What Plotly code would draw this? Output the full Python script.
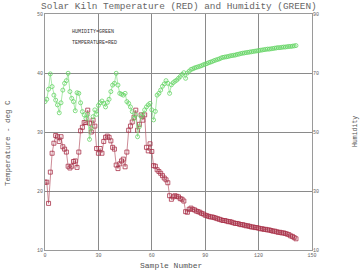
import plotly.graph_objects as go

samples = list(range(142))

temperature = [
    21.5, 21.5, 17.9, 23.2, 26.4, 28.1, 29.4, 29.2, 28.4, 29.2,
    27.5, 27.1, 26.6, 24.2, 23.9, 24.2, 25.0, 25.1, 24.0, 26.6,
    30.2, 30.8, 31.6, 31.6, 33.7, 31.5, 30.0, 32.0, 31.0, 27.2,
    26.4, 27.2, 26.4, 28.4, 29.1, 29.3, 29.1, 28.5, 27.4, 27.1,
    24.4, 23.8, 24.6, 25.1, 25.4, 24.1, 26.6, 30.3, 31.0, 31.7,
    32.5, 33.7, 30.3, 31.3, 32.9, 32.0, 32.9, 27.4, 26.8, 28.0,
    26.7, 24.3, 24.2, 23.6, 23.3, 23.0, 22.6, 22.2, 21.9, 21.4,
    19.2, 18.6, 19.0, 19.2, 19.1, 19.0, 18.7, 18.6, 18.3, 16.5,
    16.4, 16.9, 17.1, 16.9, 16.8, 16.6, 16.5, 16.4, 16.2, 16.1,
    15.9, 15.8, 15.7, 15.6, 15.6, 15.5, 15.4, 15.3, 15.2, 15.1,
    15.0, 15.0, 14.9, 14.8, 14.8, 14.7, 14.6, 14.5, 14.5, 14.4,
    14.3, 14.3, 14.2, 14.1, 14.1, 14.0, 13.9, 13.9, 13.8, 13.8,
    13.7, 13.6, 13.6, 13.5, 13.5, 13.4, 13.4, 13.3, 13.2, 13.2,
    13.1, 13.0, 13.0, 12.9, 12.9, 12.8, 12.7, 12.6, 12.4, 12.3,
    12.1, 11.9,
]

humidity = [
    60.3, 61.1, 64.5, 69.7, 65.4, 62.5, 60.8, 59.2, 56.5, 59.9,
    64.2, 66.5, 67.4, 69.9, 63.7, 61.4, 60.3, 57.2, 63.3, 63.1,
    59.9, 56.9, 55.8, 54.6, 56.0, 47.5, 51.3, 55.2, 57.5, 56.0,
    59.0, 59.9, 60.5, 59.7, 58.5, 60.0, 61.1, 63.7, 65.9, 66.5,
    69.9, 65.9, 63.1, 62.8, 62.5, 63.1, 60.3, 59.7, 58.5, 56.9,
    54.6, 55.8, 48.4, 51.8, 55.2, 56.0, 57.5, 58.5, 59.2, 59.7,
    57.5, 54.1, 57.0, 62.5, 63.1, 64.2, 65.5, 66.3, 67.4, 66.5,
    63.1, 66.0, 66.7, 67.2, 67.6, 68.2, 68.8, 69.5, 70.1, 68.2,
    70.0, 70.6, 71.2, 71.4, 71.7, 71.9, 72.1, 72.3, 72.5, 72.8,
    73.0, 73.2, 73.5, 73.7, 73.9, 74.2, 74.4, 74.6, 74.8, 75.1,
    75.3, 75.4, 75.5, 75.6, 75.8, 75.9, 76.0, 76.1, 76.3, 76.4,
    76.6, 76.7, 76.8, 76.9, 77.0, 77.1, 77.2, 77.3, 77.4, 77.5,
    77.6, 77.7, 77.8, 77.9, 78.0, 78.1, 78.1, 78.2, 78.3, 78.4,
    78.5, 78.6, 78.6, 78.7, 78.8, 78.8, 78.9, 79.0, 79.0, 79.1,
    79.2, 79.3,
]

x_ticks = [0, 30, 60, 90, 120, 150]
y_left_ticks = [10, 20, 30, 40, 50]
y_right_ticks = [10, 30, 50, 70, 90]

MONO = "Liberation Mono, Courier New, monospace"
GRID = "#8a8a8a"
TXT = "#666666"

W, H = 360, 270
L, R, T, B = 45, 48, 14, 20
pw, ph = W - L - R, H - T - B


def px_to_paper(px, py):
    return (px - L) / pw, (H - B - py) / ph


fig = go.Figure()
fig.add_trace(go.Scatter(
    x=samples, y=humidity, yaxis="y2", mode="lines+markers",
    line=dict(color="#86e086", width=0.7),
    marker=dict(symbol="circle-open", size=4, color="#66d466", line=dict(width=0.8)),
    showlegend=False, hoverinfo="skip",
))
fig.add_trace(go.Scatter(
    x=samples, y=temperature, mode="lines+markers",
    line=dict(color="#b85a6a", width=0.7),
    marker=dict(symbol="square-open", size=4, color="#a83048", line=dict(width=0.8)),
    showlegend=False, hoverinfo="skip",
))

axis_common = dict(
    showgrid=True, gridcolor=GRID, gridwidth=1,
    showline=True, linecolor="#9a9a9a", linewidth=1, mirror=True,
    zeroline=False, ticks="", tickfont=dict(family=MONO, size=5, color=TXT),
)


def ann(text, px, py, size, color="#555555", angle=0, xanchor="center"):
    x, y = px_to_paper(px, py)
    return dict(text=text, x=x, y=y, xref="paper", yref="paper",
                xanchor=xanchor, yanchor="middle", textangle=angle,
                showarrow=False, font=dict(family=MONO, size=size, color=color))


fig.update_layout(
    width=W, height=H,
    margin=dict(l=L, r=R, t=T, b=B),
    paper_bgcolor="white", plot_bgcolor="white",
    xaxis=dict(range=[0, 150], tickvals=x_ticks, **axis_common),
    yaxis=dict(range=[10, 50], tickvals=y_left_ticks, **axis_common),
    yaxis2=dict(range=[10, 90], tickvals=y_right_ticks, overlaying="y", side="right",
                showgrid=False, showline=False, zeroline=False, ticks="",
                tickfont=dict(family=MONO, size=5, color=TXT)),
    annotations=[
        ann("Solar Kiln Temperature (RED) and Humidity (GREEN)", 179, 6, 9.4, "#666666"),
        ann("Sample Number", 171, 265, 8),
        ann("Temperature - deg C", 8, 143, 7.5, angle=-90),
        ann("Humidity", 355, 132, 6.5, angle=-90),
        ann("HUMIDITY=GREEN", 70, 32, 5, "#333333", xanchor="left"),
        ann("TEMPERATURE=RED", 70, 43, 5, "#333333", xanchor="left"),
    ],
)

fig.write_html("out.html")
